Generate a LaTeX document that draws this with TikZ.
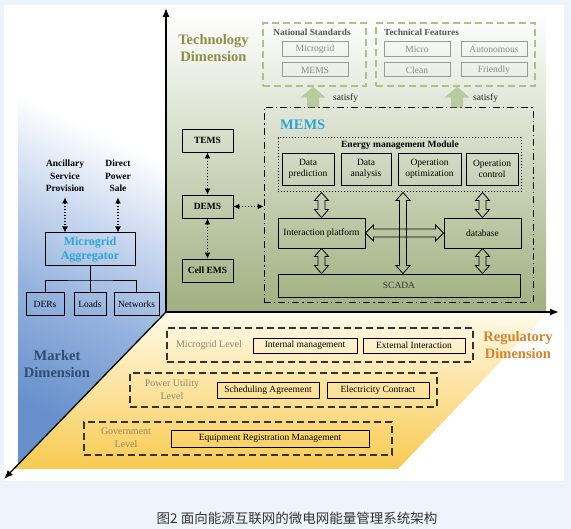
\documentclass[tikz,border=0pt]{standalone}
\usepackage{fontspec}
\setmainfont{Liberation Serif}
\newfontfamily\cjk{Noto Sans CJK SC}
\usetikzlibrary{arrows.meta,calc}
\definecolor{bgblue}{HTML}{EEF4FB}
\definecolor{grnmid}{HTML}{D0DABA}
\definecolor{grnbot}{HTML}{A0B080}
\definecolor{blubot}{HTML}{6890CC}
\definecolor{bluone}{HTML}{94B2DE}
\definecolor{blutwo}{HTML}{C8D7EF}
\definecolor{yeltop}{HTML}{FFFAEA}
\definecolor{yelbot}{HTML}{F8CA50}
\definecolor{techcol}{HTML}{8C8F45}
\definecolor{mktcol}{HTML}{2F4C74}
\definecolor{regcol}{HTML}{D9822B}
\definecolor{cyancol}{HTML}{2AA6D6}
\definecolor{stdline}{HTML}{B4BD8C}
\definecolor{grayline}{HTML}{9A9A9A}
\definecolor{graytext}{HTML}{8A8A8A}
\definecolor{titlegray}{HTML}{555555}
\definecolor{lvltext}{HTML}{8F866C}
\definecolor{satcol}{HTML}{B9CB9E}
\definecolor{capcol}{HTML}{333333}
\pgfdeclareverticalshading{bluefade}{100bp}{color(0bp)=(blubot); color(25bp)=(blubot); color(40bp)=(bluone); color(52bp)=(blutwo); color(64bp)=(white); color(100bp)=(white)}
\newcommand\fatv[2]{%
  \draw[fatarrow] (#1) -- ++(7,8) -- ++(-3.5,0) -- ($(#2)+(3.5,-8)$) -- ++(3.5,0) -- (#2)
    -- ++(-7,-8) -- ++(3.5,0) -- ($(#1)+(-3.5,8)$) -- ++(-3.5,0) -- cycle;}
\newcommand\fath[2]{%
  \draw[fatarrow] (#1) -- ++(8,-8) -- ++(0,4) -- ($(#2)+(-8,-4)$) -- ++(0,-4) -- (#2)
    -- ++(-8,8) -- ++(0,-4) -- ($(#1)+(8,4)$) -- ++(0,4) -- cycle;}
\newcommand\satarrow[2]{%
  \fill[satcol] ($(#1)+(-6,0)$) -- ($(#2)+(-6,11)$) -- ($(#2)+(-12.5,11)$) -- (#2)
    -- ($(#2)+(12.5,11)$) -- ($(#2)+(6,11)$) -- ($(#1)+(6,0)$) -- cycle;}
\begin{document}
\begin{tikzpicture}[x=1pt,y=-1pt,
  wh/.style 2 args={minimum width=#1pt, minimum height=#2pt},
  box/.style={draw=black, line width=0.9pt, inner sep=0pt, align=center,
    font=\fontsize{9.5}{10.5}\selectfont},
  bbox/.style={box, font=\bfseries\fontsize{9.5}{11}\selectfont},
  gbox/.style={draw=grayline, line width=1pt, inner sep=0pt, text=graytext,
    font=\fontsize{9.5}{10.5}\selectfont},
  stdbox/.style={draw=stdline, line width=1.2pt, dash pattern=on 7pt off 4pt, inner sep=0pt},
  lvlbox/.style={draw=black!80, line width=1.2pt, dash pattern=on 7pt off 4pt, inner sep=0pt},
  lvltxt/.style={text=lvltext, align=center, font=\fontsize{10}{13}\selectfont},
  dimtxt/.style={align=center, font=\bfseries\fontsize{14.5}{16.5}\selectfont},
  smalltxt/.style={align=center, font=\bfseries\fontsize{9.5}{12.5}\selectfont},
  axis/.style={line width=1.3pt, -{Latex[length=9pt,width=7pt]}},
  dotarr/.style={line width=1.2pt, dash pattern=on 1.2pt off 1.8pt,
    {Latex[length=6pt,width=6pt]}-{Latex[length=6pt,width=6pt]}},
  fatarrow/.style={draw=black, line width=0.8pt, fill=none, line join=miter}
]
\useasboundingbox (0,0) rectangle (571,529);
\fill[bgblue] (0,0) rectangle (571,529);
\fill[white] (4,5) rectangle (564,481);

% regions
\shade[top color=white, middle color=grnmid, bottom color=grnbot] (166,12) rectangle (546,312);
\shade[shading=bluefade, shading angle=-25] (18,12) -- (166,12) -- (166,312) -- (18,464.6) -- cycle;
\shade[top color=yeltop, bottom color=yelbot] (166,312) -- (548,312) -- (398,469) -- (14,469) -- cycle;

% axes
\coordinate (O) at (166,312);
\coordinate (ytip) at (166,8);
\coordinate (xtip) at (559,312);
\coordinate (ztip) at (4,479);
\draw[axis] (O) -- (ytip);
\draw[axis] (O) -- (xtip);
\draw[axis] (O) -- (ztip);

% Technology dimension
\node[dimtxt, text=techcol] (techdim) at (213.5,48) {Technology\\Dimension};

\node[stdbox, wh={103}{63}] (natbox) at (314.5,54.5) {};
\node[text=titlegray, font=\bfseries\fontsize{9.3}{10}\selectfont] (nattitle) at (312,32) {National Standards};
\node[gbox, wh={66}{15}] (nat1) at (315,49.5) {Microgrid};
\node[gbox, wh={66}{14}] (nat2) at (315,70) {MEMS};

\node[stdbox, wh={159}{63}] (techbox) at (455.5,54.5) {};
\node[text=titlegray, anchor=west, inner sep=0pt, font=\bfseries\fontsize{9.3}{10}\selectfont] (techtitle) at (384,32) {Technical Features};
\node[gbox, wh={66}{15}] (tf1) at (417,49.5) {Micro};
\node[gbox, wh={66}{15}] (tf2) at (494,49.5) {Autonomous};
\node[gbox, wh={66}{14}] (tf3) at (417,70) {Clean};
\node[gbox, wh={66}{14}] (tf4) at (494,70) {Friendly};

% MEMS
\node[draw=black, line width=1pt, dash pattern=on 7pt off 3pt on 1.2pt off 3pt, inner sep=0pt, wh={269}{195}] (memsbox) at (398.5,205.5) {};
\node[anchor=west, inner sep=0pt, text=cyancol, font=\bfseries\fontsize{14.5}{16}\selectfont] (memslbl) at (280,125) {MEMS};
\node[draw=black, line width=1pt, dash pattern=on 1.2pt off 1.8pt, inner sep=0pt, wh={243}{54}] (modbox) at (399.5,165) {};
\node[font=\bfseries\fontsize{9.5}{10}\selectfont, inner sep=0pt] (modtitle) at (400,145) {Energy management Module};
\node[box, wh={52}{32}] (dp) at (308,169) {Data\\prediction};
\node[box, wh={50}{32}] (da) at (366,169) {Data\\analysis};
\node[box, wh={63}{32}] (oo) at (429.5,169) {Operation\\optimization};
\node[box, wh={52}{32}] (oc) at (492,169) {Operation\\control};
\node[box, wh={87}{30}] (ip) at (321.5,233) {Interaction platform};
\node[box, wh={77}{30}] (db) at (482.5,233) {database};
\node[box, wh={242}{23}, text=black!80] (scada) at (399,285.5) {SCADA};

\coordinate (mx) at (403,0);
\fatv{modbox.south -| ip}{ip.north}
\fatv{modbox.south -| mx}{scada.north -| mx}
\fatv{modbox.south -| db}{db.north}
\fatv{ip.south}{scada.north -| ip}
\fatv{db.south}{scada.north -| db}
\fath{ip.east}{db.west}

% satisfy
\coordinate (s1) at (313,0);
\coordinate (s2) at (457,0);
\satarrow{memsbox.north -| s1}{natbox.south -| s1}
\satarrow{memsbox.north -| s2}{techbox.south -| s2}
\node[anchor=west, inner sep=0pt, font=\fontsize{9.5}{10}\selectfont, text=black!85] (sat1) at (333,98) {satisfy};
\node[anchor=west, inner sep=0pt, font=\fontsize{9.5}{10}\selectfont, text=black!85] (sat2) at (473,98) {satisfy};

% EMS hierarchy
\node[bbox, wh={51}{23}] (tems) at (207.5,140.5) {TEMS};
\node[bbox, wh={51}{23}] (dems) at (207.5,206.5) {DEMS};
\node[bbox, wh={51}{23}] (cell) at (207.5,270.5) {Cell EMS};
\draw[dotarr] (tems.south) -- (dems.north);
\draw[dotarr] (dems.south) -- (cell.north);
\draw[dotarr] (dems.east) -- (dems.east -| memsbox.west);

% Market dimension
\node[smalltxt] (anc) at (65,176) {Ancillary\\Service\\Provision};
\node[smalltxt] (dps) at (118,176) {Direct\\Power\\Sale};
\node[draw=black, line width=1pt, inner sep=0pt, wh={90}{33}, align=center, text=cyancol, font=\bfseries\fontsize{12}{14.5}\selectfont] (agg) at (90,249.5) {Microgrid\\Aggregator};
\draw[dotarr] ($(anc.south)+(0,2)$) -- (anc.south |- agg.north);
\draw[dotarr] ($(dps.south)+(0,2)$) -- (dps.south |- agg.north);
\node[box, wh={38}{23}, line width=1pt] (ders) at (45,304.5) {DERs};
\node[box, wh={32}{23}, line width=1pt] (loads) at (90,304.5) {Loads};
\node[box, wh={45}{23}, line width=1pt] (nets) at (136.5,304.5) {Networks};
\coordinate (br) at (90,280);
\draw[line width=0.9pt] (agg.south) -- (br);
\draw[line width=0.9pt] (ders.north) |- (br) -| (nets.north);
\draw[line width=0.9pt] (loads.north) -- (br);
\node[dimtxt, text=mktcol] (mktdim) at (57,364) {Market\\Dimension};

% Regulatory dimension
\node[lvlbox, wh={306}{34}] (mglvl) at (320,345) {};
\node[lvltxt] (mglbl) at (209,345) {Microgrid Level};
\node[box, wh={104}{15}] (im) at (305,345.5) {Internal management};
\node[box, wh={102}{15}] (ei) at (414,345.5) {External Interaction};

\node[lvlbox, wh={307}{34}] (pulvl) at (283.5,390) {};
\node[lvltxt] (pulbl) at (172,390) {Power Utility\\Level};
\node[box, wh={102}{16}] (sa) at (268,390) {Scheduling Agreement};
\node[box, wh={102}{16}] (ec) at (378,390) {Electricity Contract};

\node[lvlbox, wh={308}{33}] (govlvl) at (238,438.5) {};
\node[lvltxt] (govlbl) at (126,438) {Government\\Level};
\node[box, wh={198}{17}] (erm) at (270,438.5) {Equipment Registration Management};

\node[dimtxt, text=regcol] (regdim) at (518,345) {Regulatory\\Dimension};

% caption
\node[text=capcol, font=\cjk\fontsize{13.5}{15}\selectfont] (cap) at (297,518) {图2 面向能源互联网的微电网能量管理系统架构};
\end{tikzpicture}
\end{document}
